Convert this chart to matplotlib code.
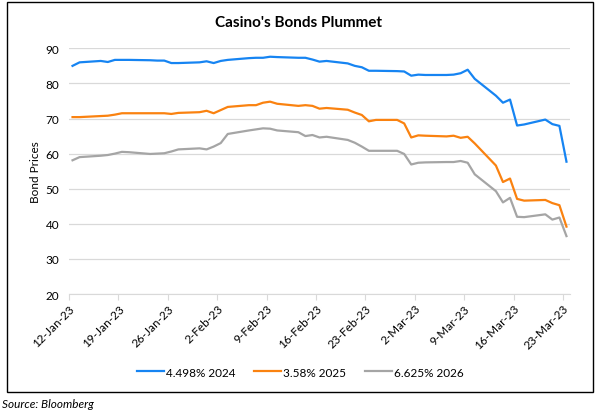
import matplotlib
matplotlib.use("Agg")
import matplotlib.pyplot as plt
import matplotlib.dates as mdates
from matplotlib.patches import Rectangle
import pandas as pd

plt.rcParams["font.family"] = ["Lato", "DejaVu Sans"]

dates = [
    "2023-01-12", "2023-01-13", "2023-01-16", "2023-01-17", "2023-01-18", "2023-01-19",
    "2023-01-20", "2023-01-23", "2023-01-24", "2023-01-25", "2023-01-26", "2023-01-27",
    "2023-01-30", "2023-01-31", "2023-02-01", "2023-02-02", "2023-02-03", "2023-02-06",
    "2023-02-07", "2023-02-08", "2023-02-09", "2023-02-10", "2023-02-13", "2023-02-14",
    "2023-02-15", "2023-02-16", "2023-02-17", "2023-02-20", "2023-02-21", "2023-02-22",
    "2023-02-23", "2023-02-24", "2023-02-27", "2023-02-28", "2023-03-01", "2023-03-02",
    "2023-03-03", "2023-03-06", "2023-03-07", "2023-03-08", "2023-03-09", "2023-03-10",
    "2023-03-13", "2023-03-14", "2023-03-15", "2023-03-16", "2023-03-17", "2023-03-20",
    "2023-03-21", "2023-03-22", "2023-03-23",
]

bond_2024 = [
    85.0, 86.0, 86.4, 86.1, 86.7, 86.7, 86.7, 86.6, 86.5, 86.5, 85.8, 85.8,
    86.0, 86.3, 85.8, 86.4, 86.7, 87.2, 87.3, 87.3, 87.6, 87.5, 87.3, 87.3,
    86.8, 86.2, 86.4, 85.7, 85.0, 84.6, 83.6, 83.6, 83.5, 83.4, 82.2, 82.5,
    82.4, 82.4, 82.5, 82.9, 83.9, 81.3, 76.5, 74.5, 75.4, 68.0, 68.3, 69.7,
    68.4, 67.9, 57.7,
]
bond_2025 = [
    70.4, 70.4, 70.7, 70.8, 71.1, 71.5, 71.5, 71.5, 71.5, 71.5, 71.3, 71.6,
    71.8, 72.2, 71.5, 72.4, 73.3, 73.8, 73.8, 74.5, 74.8, 74.2, 73.6, 73.8,
    73.6, 72.8, 73.0, 72.5, 71.7, 71.0, 69.2, 69.6, 69.6, 68.6, 64.6, 65.2,
    65.1, 64.9, 65.1, 64.5, 64.8, 62.9, 56.6, 51.9, 52.9, 47.1, 46.6, 46.8,
    45.9, 45.3, 39.2,
]
bond_2026 = [
    58.1, 59.0, 59.4, 59.6, 60.0, 60.5, 60.4, 59.9, 60.0, 60.1, 60.6, 61.2,
    61.5, 61.2, 62.0, 63.0, 65.6, 66.6, 66.9, 67.2, 67.1, 66.6, 66.1, 65.0,
    65.3, 64.6, 64.8, 63.9, 63.1, 62.0, 60.8, 60.8, 60.8, 59.9, 56.9, 57.4,
    57.5, 57.6, 57.6, 57.9, 57.4, 54.1, 49.3, 46.1, 47.4, 42.0, 41.9, 42.7,
    41.2, 41.8, 36.5,
]

series = [
    ("4.498% 2024", bond_2024, "#1684F2"),
    ("3.58% 2025", bond_2025, "#FA8210"),
    ("6.625% 2026", bond_2026, "#A5A5A5"),
]

# Excel date axis puts each point mid-day
x = pd.to_datetime(dates) + pd.Timedelta(hours=12)

fig = plt.figure(figsize=(6.0, 4.14), dpi=100)
ax = fig.add_axes([0.115, 0.2874, 0.835, 0.5935])

for label, vals, color in series:
    ax.plot(x, vals, color=color, linewidth=1.6, label=label)

ax.set_xlim(pd.Timestamp("2023-01-12"), pd.Timestamp("2023-03-24"))
ax.set_ylim(20, 90)
ax.set_yticks(range(20, 91, 10))

ticks = pd.date_range("2023-01-12", "2023-03-23", freq="7D")
ax.set_xticks(ticks)
ax.set_xticklabels([f"{d.day}-{d:%b-%y}" for d in ticks], rotation=45,
                   ha="right", va="top", rotation_mode="anchor")

ax.grid(axis="y", color="#D9D9D9", linewidth=0.9)
ax.set_axisbelow(True)
for side in ["top", "right", "left"]:
    ax.spines[side].set_visible(False)
ax.spines["bottom"].set_color("#D9D9D9")
ax.tick_params(axis="y", length=0, labelsize=8.5, pad=7)
ax.tick_params(axis="x", length=4, color="#D9D9D9", labelsize=8.5, pad=2)

ax.set_ylabel("Bond Prices", fontsize=8.5, labelpad=3)

fig.text(0.498, 0.944, "Casino's Bonds Plummet", ha="center", va="center",
         fontsize=11, fontweight="bold")

fig.legend(loc="center", bbox_to_anchor=(0.5, 0.099), ncol=3, frameon=False,
           fontsize=8.5, handlelength=2.3, handletextpad=0.15, columnspacing=1.6)

fig.patches.append(Rectangle((7 / 600, 1 - 393 / 414), 586 / 600, 390 / 414,
                             transform=fig.transFigure, fill=False,
                             edgecolor="black", linewidth=1.0))

fig.text(0.004, 1 - 405 / 414, "Source: Bloomberg", ha="left", va="center",
         fontsize=8.5, style="italic")

fig.savefig("out.png", dpi=100)
